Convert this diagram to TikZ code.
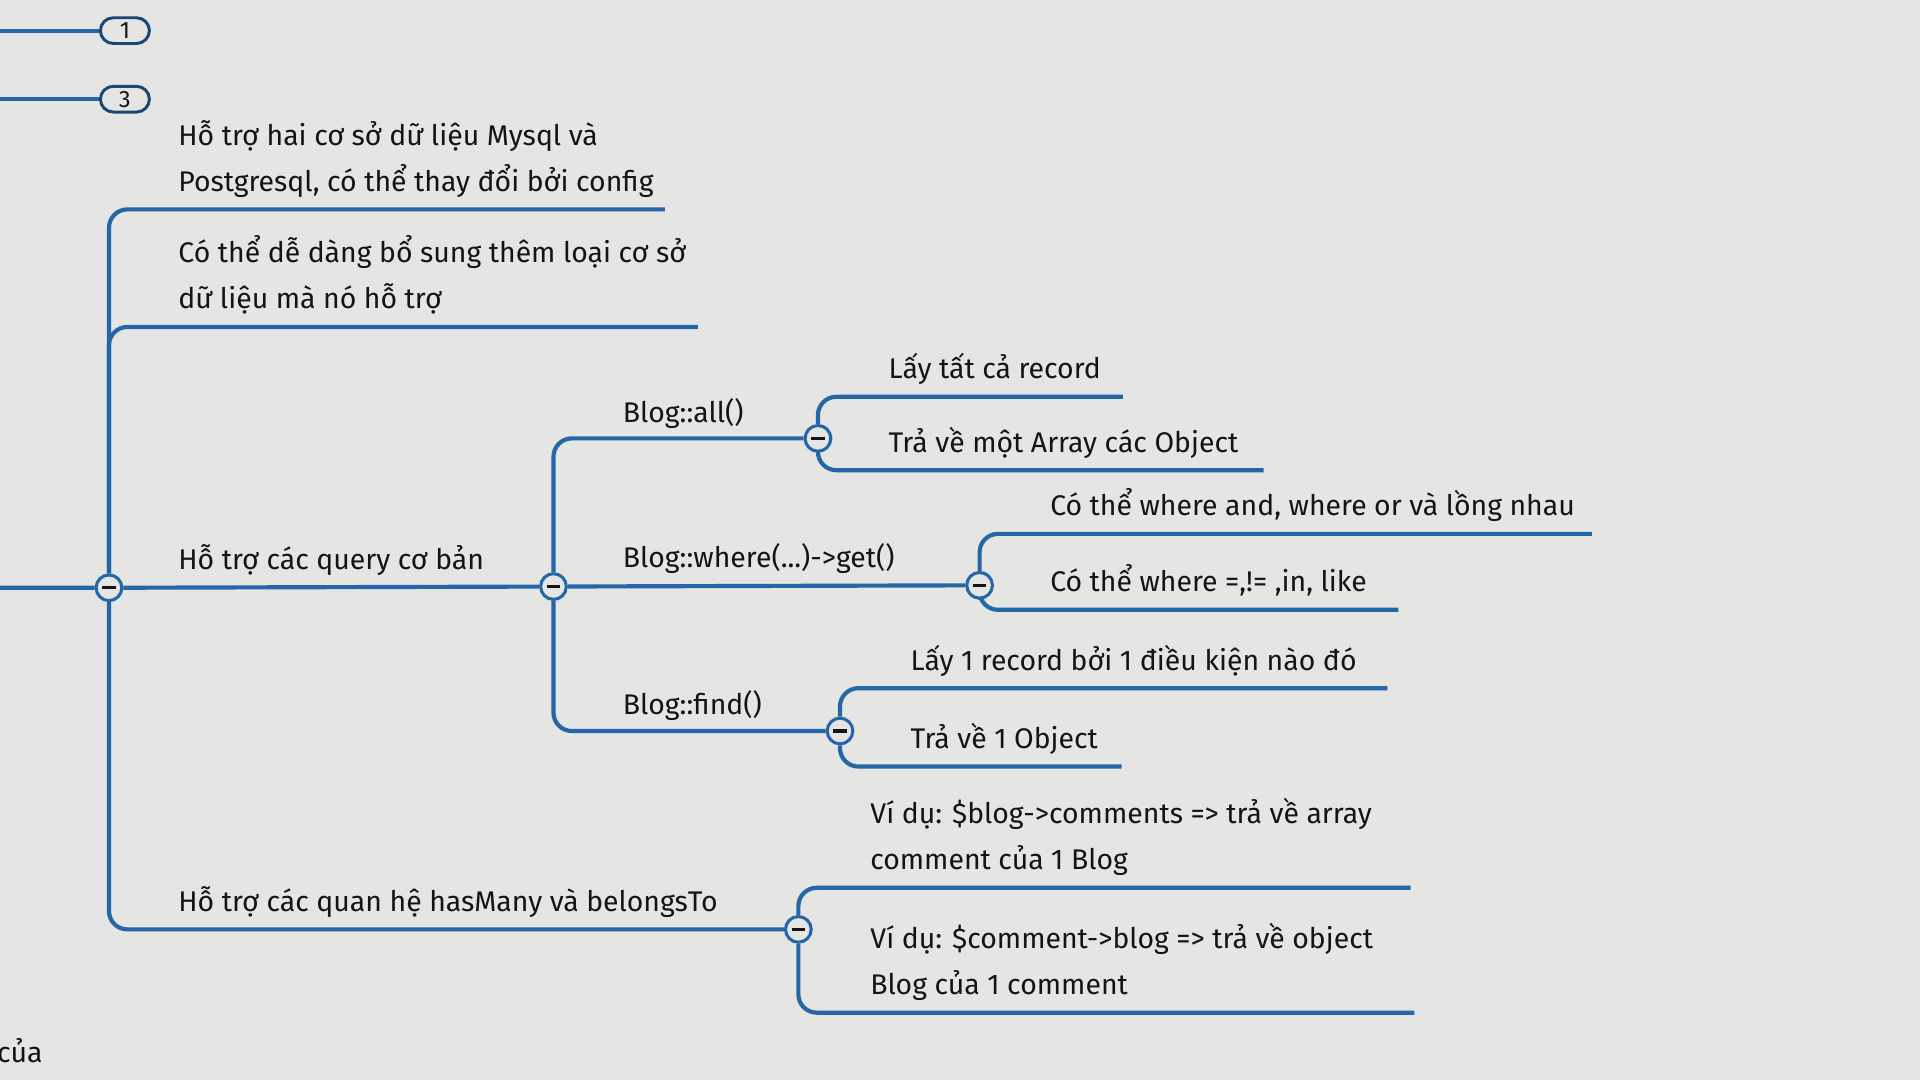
\documentclass[tikz,border=0pt]{standalone}
\usepackage{fontspec}
\setmainfont{Fira Sans}
\usetikzlibrary{backgrounds, shapes.misc}

\definecolor{mapblue}{RGB}{36,102,166}
\definecolor{paper}{RGB}{229,229,227}
\definecolor{ink}{RGB}{20,20,22}

\tikzset{
  branch/.style={draw=mapblue, line width=0.34mm, rounded corners=1.5mm},
  topic/.style={anchor=south west, inner sep=0pt, text depth=0pt, text=ink,
    align=left, font=\fontsize{6.6}{10.7}\selectfont},
  toggle/.style={circle, draw=mapblue, line width=0.25mm, fill=paper,
    inner sep=0pt, minimum size=2.1mm,
    path picture={\draw[ink, line width=0.28mm]
      ([xshift=-0.55mm]path picture bounding box.center) --
      ([xshift=0.55mm]path picture bounding box.center);}},
  badge/.style={rounded rectangle, draw=mapblue!70!black, line width=0.24mm,
    fill=paper, inner sep=0pt, minimum width=4mm, minimum height=2.1mm,
    text=ink, font=\fontsize{5.5}{6}\selectfont},
}

\begin{document}
\begin{tikzpicture}[x=0.1mm, y=-0.1mm]

\useasboundingbox (0,0) rectangle (1568,882);

% collapsed siblings at the top
\path
(0,25) coordinate (s1) (102,25) node[badge] (b1) {1}
(0,81) coordinate (s3) (102,81) node[badge] (b3) {3}
;

% hubs
\path
(0,480) coordinate (root)
(89,480) node[toggle] (hubMain) {}
(452,479) node[toggle] (hubQuery) {}
(668,358) node[toggle] (hubAll) {}
(800,478) node[toggle] (hubWhere) {}
(686,597) node[toggle] (hubFind) {}
(652,759) node[toggle] (hubRel) {}
;

% line ends
\path
(543,171) coordinate (eDb)
(570,267) coordinate (eExt)
(917,324) coordinate (eAllA)
(1032,384) coordinate (eAllB)
(1300,436) coordinate (eWhereA)
(1142,498) coordinate (eWhereB)
(1133,562) coordinate (eFindA)
(916,626) coordinate (eFindB)
(1152,725) coordinate (eRelA)
(1155,827) coordinate (eRelB)
;

% topics
\path[every node/.style={topic}]
(145,157) node (tDb) {Hỗ trợ hai cơ sở dữ liệu Mysql và\\Postgresql, có thể thay đổi bởi config}
(145,253) node (tExt) {Có thể dễ dàng bổ sung thêm loại cơ sở\\dữ liệu mà nó hỗ trợ}
(145,466) node (tQuery) {Hỗ trợ các query cơ bản}
(145,745) node (tRel) {Hỗ trợ các quan hệ hasMany và belongsTo}
(508,346) node (tAll) {Blog::all()}
(508,464) node (tWhere) {Blog::where(...)->get()}
(508,584) node (tFind) {Blog::find()}
(725,310) node (tAllA) {Lấy tất cả record}
(725,370) node (tAllB) {Trả về một Array các Object}
(857,422) node (tWhereA) {Có thể where and, where or và lồng nhau}
(857,484) node (tWhereB) {Có thể where =,!= ,in, like}
(743,548) node (tFindA) {Lấy 1 record bởi 1 điều kiện nào đó}
(743,612) node (tFindB) {Trả về 1 Object}
(710,711) node (tRelA) {Ví dụ: \$blog->comments => trả về array\\comment của 1 Blog}
(710,813) node (tRelB) {Ví dụ: \$comment->blog => trả về object\\Blog của 1 comment}
(-3,868) node (tCut) {của}
;

\begin{scope}[on background layer]
\fill[paper] (0,0) rectangle (1568,882);
\begin{scope}[every path/.style={branch}]
\draw (s1) -- (b1);
\draw (s3) -- (b3);
\draw (root) -- (hubMain) -- (hubQuery);
\draw (eDb) -| (hubMain);
\draw (eExt) -| (hubMain);
\draw (hubRel) -| (hubMain);
\draw (hubAll) -| (hubQuery);
\draw (hubWhere) -- (hubQuery);
\draw (hubFind) -| (hubQuery);
\draw (eAllA) -| (hubAll);
\draw (eAllB) -| (hubAll);
\draw (eWhereA) -| (hubWhere);
\draw (eWhereB) -| (hubWhere);
\draw (eFindA) -| (hubFind);
\draw (eFindB) -| (hubFind);
\draw (eRelA) -| (hubRel);
\draw (eRelB) -| (hubRel);
\end{scope}
\end{scope}

\end{tikzpicture}
\end{document}
